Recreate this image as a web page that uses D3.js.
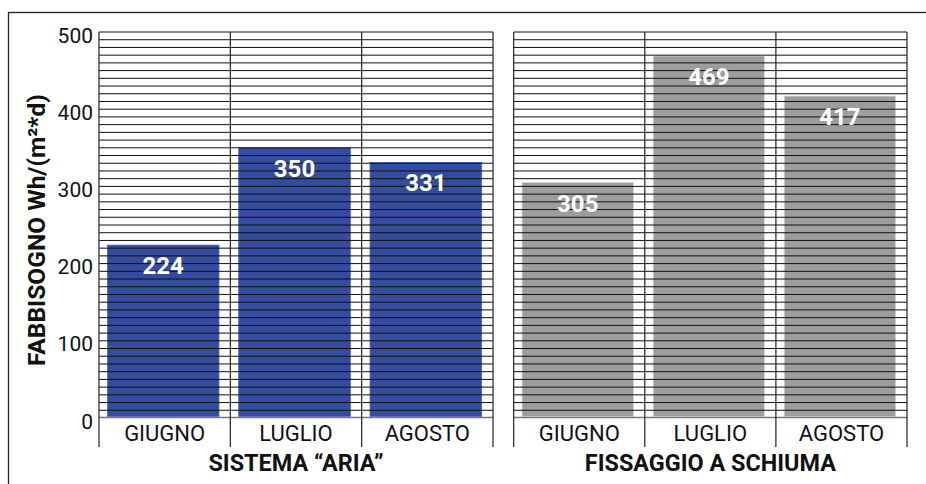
<!DOCTYPE html>
<html>
<head>
<meta charset="utf-8">
<script src="https://cdn.jsdelivr.net/npm/d3@7"></script>
<style>
  html, body { margin: 0; padding: 0; background: #fff; }
  svg { display: block; font-family: Roboto, "Noto Sans", sans-serif; }
</style>
</head>
<body>
<svg id="chart" width="926" height="484"></svg>
<script>
// Monthly energy demand for two systems
const months = ["GIUGNO", "LUGLIO", "AGOSTO"];
const groupNames = ["SISTEMA \u201CARIA\u201D", "FISSAGGIO A SCHIUMA"];
const ariaValues = [224, 350, 331];
const schiumaValues = [305, 469, 417];
const yTicks = [0, 100, 200, 300, 400, 500];
const yTitle = "FABBISOGNO Wh/(m\u00B2*d)";

const groups = [
  { name: groupNames[0], values: ariaValues, color: "#354b9e", x0: 99, x1: 493 },
  { name: groupNames[1], values: schiumaValues, color: "#9d9d9d", x0: 513.7, x1: 907 }
];

const svg = d3.select("#chart");

// outer frame
svg.append("rect")
  .attr("x", 8.5).attr("y", 12.5)
  .attr("width", 940).attr("height", 490)
  .attr("fill", "none").attr("stroke", "#222").attr("stroke-width", 1.3);

const y = d3.scaleLinear().domain([0, 500]).range([418, 32]);
const gridValues = d3.range(0, 501, 10);
const bottomLine = 447;

groups.forEach(g => {
  const x = d3.scaleBand().domain(months).range([g.x0, g.x1]).paddingInner(0.15).paddingOuter(0.075);
  const cells = d3.scaleBand().domain(months).range([g.x0, g.x1]);
  const panel = svg.append("g");

  // bars
  panel.selectAll("rect.bar").data(g.values).join("rect")
    .attr("class", "bar")
    .attr("x", (d, i) => x(months[i]) - 1.5)
    .attr("width", x.bandwidth())
    .attr("y", d => y(d))
    .attr("height", d => y(0) - 1.5 - y(d))
    .attr("fill", g.color)
    .attr("stroke", d3.color(g.color).brighter(0.9))
    .attr("stroke-width", 0.8);

  // horizontal rules every 10 units, drawn across the bars
  panel.selectAll("line.grid").data(gridValues.filter(v => v > 0)).join("line")
    .attr("class", "grid")
    .attr("x1", g.x0).attr("x2", g.x1)
    .attr("y1", d => y(d)).attr("y2", d => y(d))
    .attr("stroke", "#111").attr("stroke-width", 1);

  // baseline
  panel.append("line")
    .attr("x1", g.x0).attr("x2", g.x1)
    .attr("y1", y(0) - 0.5).attr("y2", y(0) - 0.5)
    .attr("stroke", "#777").attr("stroke-width", 1.6);

  // vertical separators
  const vx = [g.x0, ...months.slice(1).map(m => cells(m)), g.x1];
  panel.selectAll("line.sep").data(vx).join("line")
    .attr("class", "sep")
    .attr("x1", d => d).attr("x2", d => d)
    .attr("y1", y(500)).attr("y2", bottomLine)
    .attr("stroke", "#222").attr("stroke-width", 1.2);

  // value labels
  panel.selectAll("text.val").data(g.values).join("text")
    .attr("class", "val")
    .attr("x", (d, i) => x(months[i]) - 1.5 + x.bandwidth() / 2)
    .attr("y", d => y(d) + 29)
    .attr("text-anchor", "middle")
    .attr("fill", "#fff")
    .attr("font-weight", 700)
    .attr("font-size", 24)
    .text(d => d);

  // month labels
  panel.selectAll("text.month").data(months).join("text")
    .attr("class", "month")
    .attr("x", d => cells(d) + cells.bandwidth() / 2)
    .attr("y", 441)
    .attr("text-anchor", "middle")
    .attr("fill", "#111")
    .attr("font-size", 22)
    .text(d => d);

  // group title
  panel.append("text")
    .attr("x", (g.x0 + g.x1) / 2)
    .attr("y", 471)
    .attr("text-anchor", "middle")
    .attr("fill", "#111")
    .attr("font-weight", 700)
    .attr("font-size", 23.4)
    .text(g.name);
});

// y axis labels
const yAxis = d3.axisLeft(y).tickValues(yTicks).tickSize(0).tickPadding(6);
const ya = svg.append("g").attr("transform", "translate(99,0)").call(yAxis);
ya.select(".domain").remove();
ya.selectAll("text")
  .attr("font-family", "Roboto, sans-serif")
  .attr("font-size", 21)
  .attr("dy", "0.48em")
  .attr("fill", "#111");

// y axis title
svg.append("text")
  .attr("transform", "translate(45,230) rotate(-90)")
  .attr("text-anchor", "middle")
  .attr("fill", "#111")
  .attr("font-weight", 700)
  .attr("font-size", 24.5)
  .text(yTitle);
</script>
</body>
</html>
